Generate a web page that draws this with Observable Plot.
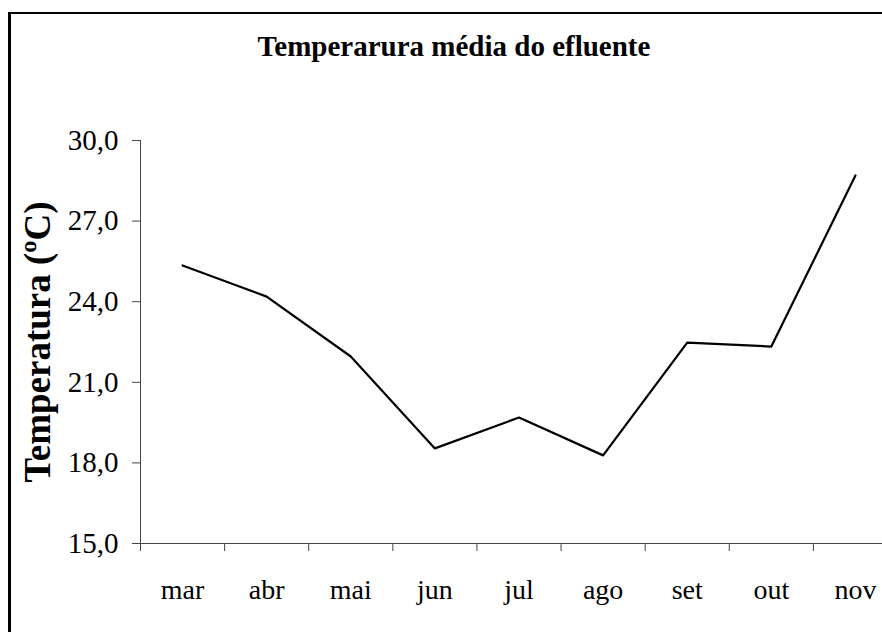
<!DOCTYPE html>
<html>
<head>
<meta charset="utf-8">
<script src="https://cdn.jsdelivr.net/npm/d3@7"></script>
<script src="https://cdn.jsdelivr.net/npm/@observablehq/plot@0.6"></script>
<style>
  html, body { margin: 0; padding: 0; background: #fff; overflow: hidden; }
  #wrap { position: relative; width: 882px; height: 632px; overflow: hidden; }
  #border { position: absolute; left: 8px; top: 12px; width: 900px; height: 700px;
            border-left: 3px solid #000; border-top: 2px solid #000; box-sizing: border-box; }
  #title { position: absolute; left: 0; width: 908px; top: 30px; text-align: center;
           font-family: "Liberation Serif", serif; font-weight: bold; font-size: 29px; color: #000; }
  #chart { position: absolute; left: 0; top: 0; }
  #chart svg [aria-label="y-axis label"] text,
  #chart svg [aria-label="y-axis label"] { font-weight: bold; font-size: 37px; }
</style>
</head>
<body>
<div id="wrap">
  <div id="border"></div>
  <div id="title">Temperarura média do efluente</div>
  <div id="chart"></div>
</div>
<script>
const months = ["mar", "abr", "mai", "jun", "jul", "ago", "set", "out", "nov"];
const temps = [25.35, 24.19, 21.96, 18.54, 19.69, 18.28, 22.48, 22.33, 28.7];
const yTicks = [15, 18, 21, 24, 27, 30];
const yTitle = "Temperatura (ºC)";

const data = months.map((m, i) => ({pos: i + 0.5, month: m, temp: temps[i]}));
const boundaries = d3.range(0, months.length);
const centers = months.map((m, i) => i + 0.5);

const chart = Plot.plot({
  width: 882,
  height: 632,
  marginLeft: 140,
  marginTop: 140,
  marginBottom: 89,
  marginRight: 0,
  style: {fontFamily: "Liberation Serif, serif", fontSize: "28px", color: "#000", background: "transparent", overflow: "visible"},
  x: {domain: [0, months.length], range: [140, 897]},
  y: {domain: [15, 30], range: [543, 140]},
  marks: [
    Plot.ruleY([15], {stroke: "#444", strokeWidth: 1}),
    Plot.ruleX([0], {y1: 15, y2: 30, stroke: "#444", strokeWidth: 1}),
    Plot.axisX({ticks: boundaries, tickSize: 8, tickFormat: () => "", stroke: "#444", label: null}),
    Plot.axisX({ticks: centers, tickSize: 0, tickPadding: 36, tickFormat: d => months[Math.round(d - 0.5)], label: null, fontSize: 28}),
    Plot.axisY({ticks: yTicks, tickSize: 8, tickPadding: 14, stroke: "#444", fontSize: 29,
                tickFormat: d => d.toFixed(1).replace(".", ","),
                label: yTitle, labelAnchor: "center", labelArrow: "none", labelOffset: 117}),
    Plot.line(data, {x: "pos", y: "temp", stroke: "#000", strokeWidth: 2.2})
  ]
});
document.getElementById("chart").appendChild(chart);
</script>
</body>
</html>
